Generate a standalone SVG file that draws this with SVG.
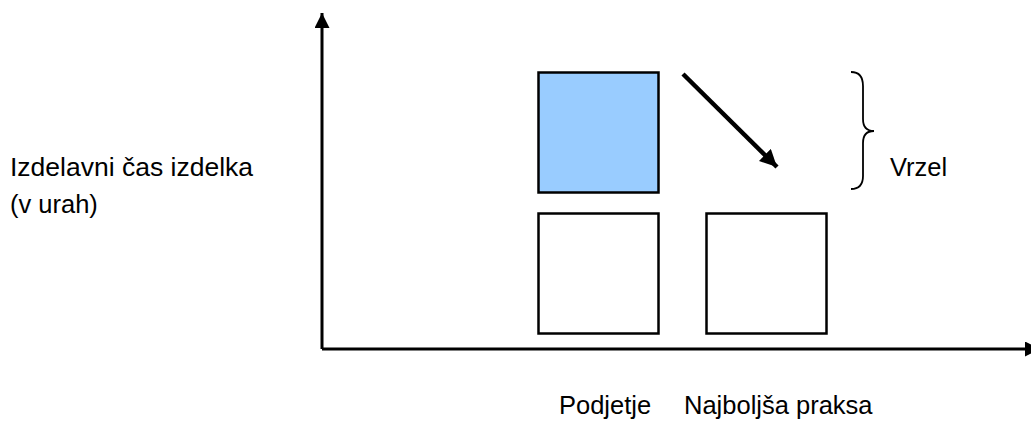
<svg xmlns="http://www.w3.org/2000/svg" width="1031" height="424" viewBox="0 0 1031 424">
  <style>
    text { font-family: "Liberation Sans", Arial, sans-serif; font-size: 25.5px; fill: #000; }
    .box { stroke: #000; stroke-width: 2.5; }
    .axis { stroke: #000; stroke-width: 3; fill: none; }
  </style>
  <defs>
    <marker id="head" viewBox="0 0 10 10" refX="10" refY="5" markerWidth="5" markerHeight="5" markerUnits="strokeWidth" orient="auto">
      <path d="M0,0 L10,5 L0,10 Z" fill="#000"/>
    </marker>
    <marker id="headBig" viewBox="0 0 10 10" refX="10" refY="5" markerWidth="4" markerHeight="3.8" markerUnits="strokeWidth" orient="auto">
      <path d="M0,0 L10,5 L0,10 Z" fill="#000"/>
    </marker>
  </defs>

  <rect width="1031" height="424" fill="#fff"/>

  <g id="connectors">
    <!-- axes -->
    <line class="axis" x1="322" y1="349" x2="322" y2="13" marker-end="url(#head)"/>
    <line class="axis" x1="322" y1="349" x2="1040" y2="349" marker-end="url(#head)"/>
    <!-- gap arrow -->
    <line x1="683" y1="74" x2="777" y2="167" stroke="#000" stroke-width="4.5" marker-end="url(#headBig)"/>
  </g>

  <g id="company-top">
    <rect class="box" x="538.5" y="72.5" width="120" height="120" fill="#99ccff"/>
  </g>
  <g id="company-bottom">
    <rect class="box" x="538.5" y="213.5" width="120" height="120" fill="#fff"/>
  </g>
  <g id="best-practice">
    <rect class="box" x="706.5" y="213.5" width="120" height="120" fill="#fff"/>
  </g>

  <g id="gap">
    <path d="M851,72 Q863,72 863,86 L863,119 Q863,131 874,131 Q863,131 863,143 L863,176 Q863,189 851,189" fill="none" stroke="#000" stroke-width="1.8"/>
    <text x="890" y="176">Vrzel</text>
  </g>

  <g id="y-label">
    <text x="10" y="176" textLength="243" lengthAdjust="spacingAndGlyphs">Izdelavni čas izdelka</text>
    <text x="10" y="213">(v urah)</text>
  </g>

  <g id="x-labels">
    <text x="559" y="414">Podjetje</text>
    <text x="684" y="414">Najboljša praksa</text>
  </g>
</svg>
